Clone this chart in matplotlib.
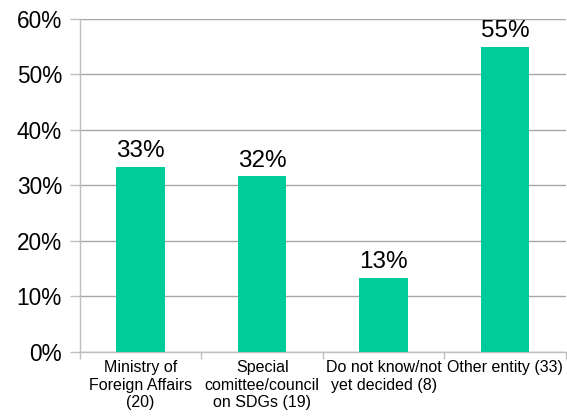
import matplotlib
matplotlib.use("Agg")
import matplotlib.pyplot as plt
from matplotlib.ticker import PercentFormatter

plt.rcParams['font.family'] = ['Liberation Sans', 'DejaVu Sans']

categories = ["Ministry of\nForeign Affairs\n(20)",
              "Special\ncomittee/council\non SDGs (19)",
              "Do not know/not\nyet decided (8)",
              "Other entity (33)"]
counts = [20, 19, 8, 33]
total_respondents = 60
shares = [c / total_respondents * 100 for c in counts]

bar_color = "#00CC99"
grid_color = "#A6A6A6"
spine_color = "#BFBFBF"

fig = plt.figure(figsize=(5.67, 4.18), dpi=100)
ax = fig.add_axes([0.141, 0.158, 0.857, 0.797])

x = list(range(len(categories)))
ax.bar(x, shares, width=0.4, color=bar_color, zorder=3)

for xi, v in zip(x, shares):
    ax.text(xi, v + 0.8, f"{v:.0f}%", ha="center", va="bottom", fontsize=17.5, color="black", zorder=4)

ax.set_xlim(-0.5, len(categories) - 0.5)
ax.set_ylim(0, 60)
ax.set_yticks(range(0, 61, 10))
ax.yaxis.set_major_formatter(PercentFormatter(decimals=0))
ax.yaxis.grid(True, color=grid_color, linewidth=1.0, zorder=0)

ax.set_xticks(x)
ax.set_xticklabels(categories, fontsize=11.5, linespacing=1.2)
ax.set_xticks([i - 0.5 for i in range(len(categories) + 1)], minor=True)
ax.tick_params(axis="x", which="major", length=0, pad=6)
ax.tick_params(axis="x", which="minor", length=5, color=spine_color, width=1)
ax.tick_params(axis="y", labelsize=16.3, length=7, color=spine_color, width=1, pad=6)

for side in ["top", "right"]:
    ax.spines[side].set_visible(False)
for side in ["left", "bottom"]:
    ax.spines[side].set_color(spine_color)
    ax.spines[side].set_linewidth(1.0)

fig.savefig("out.png", dpi=100)
